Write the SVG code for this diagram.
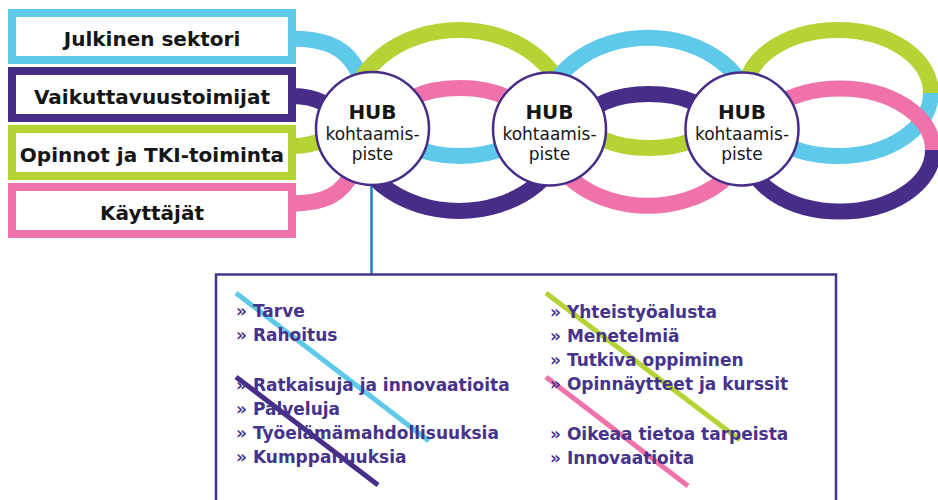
<svg xmlns="http://www.w3.org/2000/svg" width="938" height="500" viewBox="0 0 938 500">
<style>
.band{fill:none;stroke-width:16;stroke-linecap:butt}
.c{stroke:#5ec9e8}.p{stroke:#452d88}.g{stroke:#b5d334}.k{stroke:#ef72aa}
.box{fill:#fff;stroke-width:8}
.lbl{font-family:"DejaVu Sans",sans-serif;font-weight:bold;font-size:20px;fill:#161616;text-anchor:middle}
.hub{fill:#fff;stroke:#452d88;stroke-width:2.5}
.h1{font-family:"DejaVu Sans",sans-serif;font-weight:bold;font-size:20px;fill:#161616;text-anchor:middle}
.h2{font-family:"DejaVu Sans",sans-serif;font-size:17px;fill:#161616;text-anchor:middle}
.it{font-family:"DejaVu Sans",sans-serif;font-weight:bold;font-size:17px;fill:#46338a}
.dg{stroke-width:5;fill:none}
</style>
<g id="connectors">
  <path class="band c" d="M290 38.5 C330 38.5 352 50 362 82"/>
  <path class="band p" d="M290 96 A46 25 0 0 1 338 121"/>
  <path class="band g" d="M338 121 A46 25 0 0 1 290 146"/>
  <path class="band k" d="M290 203.5 C325 203.5 342 195 354 170"/>
  <path class="band g" d="M349 120.5 A110 90.5 0 0 1 569 120.5"/>
  <path class="band p" d="M569 120.5 A110 90.5 0 0 1 349 120.5"/>
  <path class="band k" d="M392 122 A68 34 0 0 1 528 122"/>
  <path class="band c" d="M528 122 A68 34 0 0 1 392 122"/>
  <path class="band c" d="M543 121.75 A105 84 0 0 1 753 121.75"/>
  <path class="band k" d="M753 121.75 A105 84 0 0 1 543 121.75"/>
  <path class="band p" d="M587 121 A62 27 0 0 1 711 121"/>
  <path class="band g" d="M711 121 A62 27 0 0 1 587 121"/>
  <path class="band g" d="M745 93 A93 63 0 0 1 931 93"/>
  <path class="band c" d="M931 93 A93 63 0 0 1 745 93"/>
  <path class="band k" d="M747 150 A93 61.5 0 0 1 933 150"/>
  <path class="band p" d="M933 150 A93 61.5 0 0 1 747 150"/>
  <line x1="371.5" y1="185" x2="371.5" y2="274" stroke="#1f80c4" stroke-width="2.5"/>
</g>
<g id="box-julkinen">
  <rect class="box" x="12" y="13" width="280" height="47" stroke="#5ec9e8"/>
  <text class="lbl" x="152" y="46">Julkinen sektori</text>
</g>
<g id="box-vaikuttavuus">
  <rect class="box" x="12" y="71" width="280" height="47" stroke="#452d88"/>
  <text class="lbl" x="152" y="104">Vaikuttavuustoimijat</text>
</g>
<g id="box-opinnot">
  <rect class="box" x="12" y="129" width="280" height="47" stroke="#b5d334"/>
  <text class="lbl" x="152" y="162">Opinnot ja TKI-toiminta</text>
</g>
<g id="box-kayttajat">
  <rect class="box" x="12" y="187" width="280" height="47" stroke="#ef72aa"/>
  <text class="lbl" x="152" y="220">Käyttäjät</text>
</g>
<g id="hub1">
  <circle class="hub" cx="372.5" cy="128.5" r="56.5"/>
  <text class="h1" x="372.5" y="119">HUB</text>
  <text class="h2" x="372.5" y="140">kohtaamis-</text>
  <text class="h2" x="372.5" y="160">piste</text>
</g>
<g id="hub2">
  <circle class="hub" cx="549.5" cy="129" r="56.5"/>
  <text class="h1" x="549.5" y="119">HUB</text>
  <text class="h2" x="549.5" y="140">kohtaamis-</text>
  <text class="h2" x="549.5" y="160">piste</text>
</g>
<g id="hub3">
  <circle class="hub" cx="742" cy="129" r="56.5"/>
  <text class="h1" x="742" y="119">HUB</text>
  <text class="h2" x="742" y="140">kohtaamis-</text>
  <text class="h2" x="742" y="160">piste</text>
</g>
<g id="details">
  <rect x="216" y="274.5" width="620" height="260" fill="#fff" stroke="#46338a" stroke-width="2.5"/>
  <line class="dg" x1="236" y1="293" x2="429" y2="441" stroke="#5ec9e8"/>
  <line class="dg" x1="236" y1="377" x2="378" y2="485" stroke="#452d88"/>
  <line class="dg" x1="546" y1="293" x2="740" y2="440" stroke="#b5d334"/>
  <line class="dg" x1="546" y1="377" x2="688" y2="486" stroke="#ef72aa"/>
  <text class="it" x="236" y="317">» Tarve</text>
  <text class="it" x="236" y="341">» Rahoitus</text>
  <text class="it" x="236" y="391">» Ratkaisuja ja innovaatioita</text>
  <text class="it" x="236" y="415">» Palveluja</text>
  <text class="it" x="236" y="439">» Työelämämahdollisuuksia</text>
  <text class="it" x="236" y="463">» Kumppanuuksia</text>
  <text class="it" x="550" y="318">» Yhteistyöalusta</text>
  <text class="it" x="550" y="342">» Menetelmiä</text>
  <text class="it" x="550" y="366">» Tutkiva oppiminen</text>
  <text class="it" x="550" y="390">» Opinnäytteet ja kurssit</text>
  <text class="it" x="550" y="440">» Oikeaa tietoa tarpeista</text>
  <text class="it" x="550" y="464">» Innovaatioita</text>
</g>
</svg>
